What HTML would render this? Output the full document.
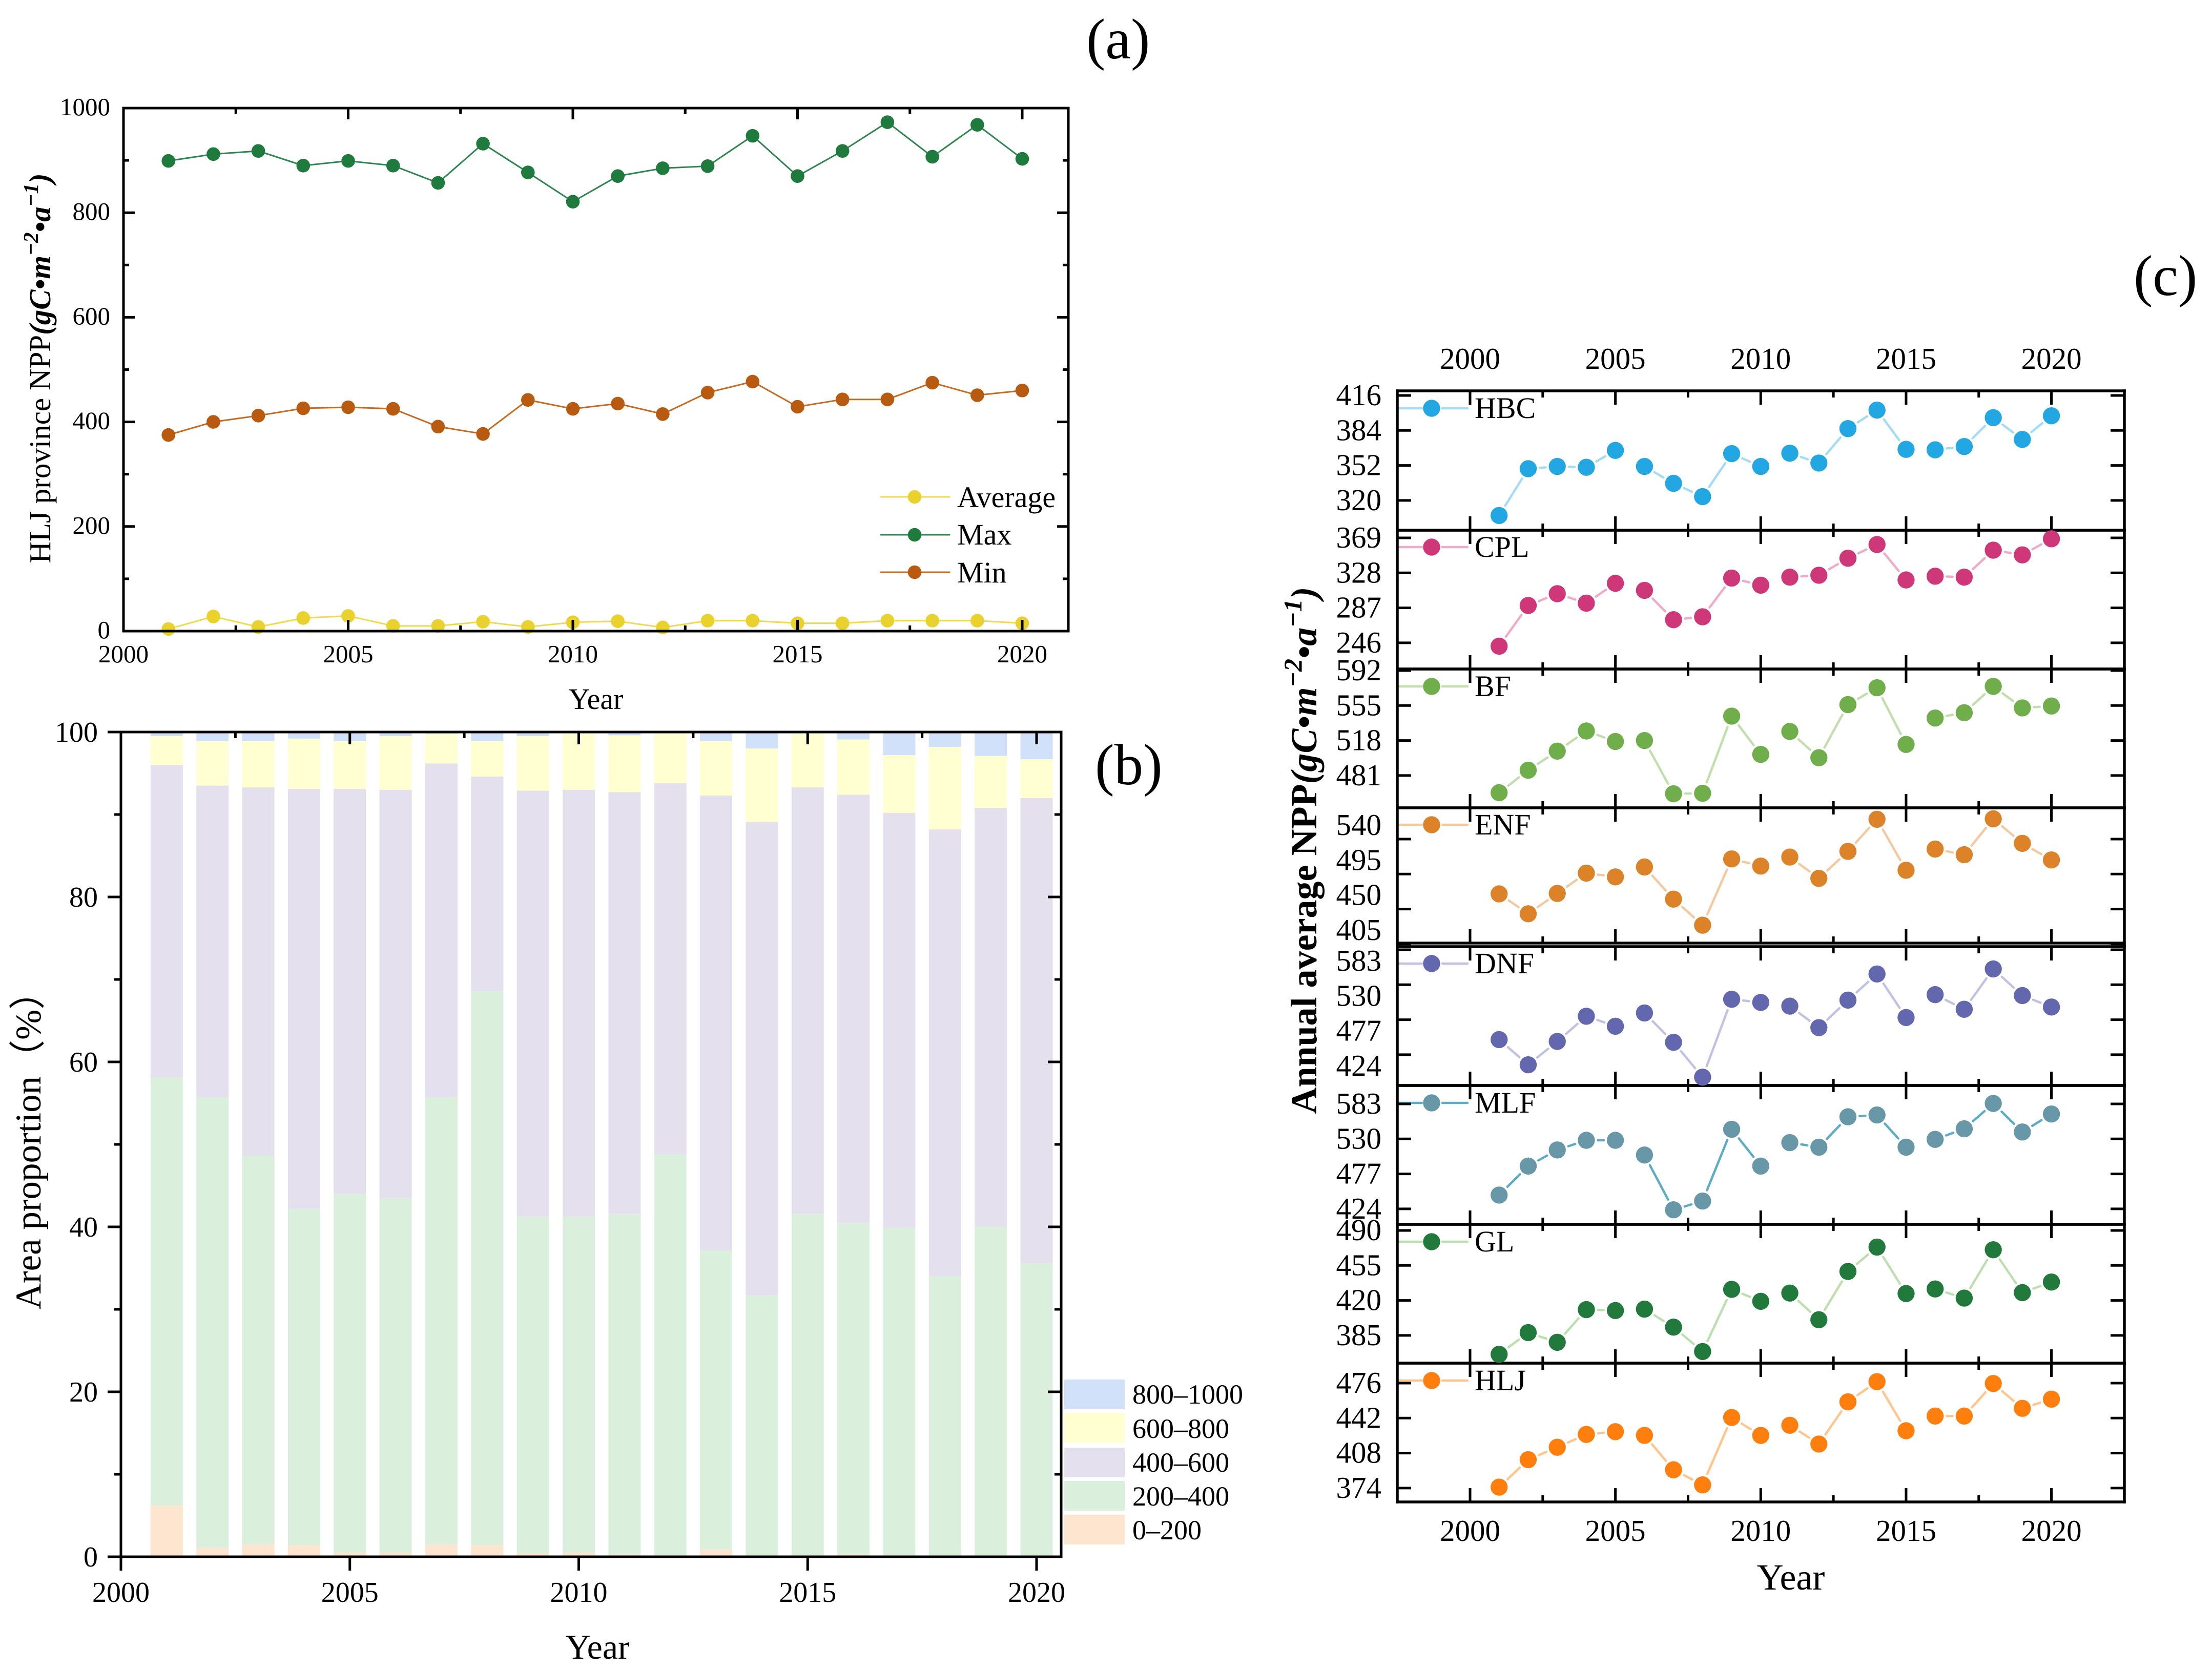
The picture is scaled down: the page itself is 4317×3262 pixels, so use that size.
<!DOCTYPE html>
<html lang="en">
<head>
<meta charset="utf-8">
<title>NPP charts</title>
<style>
html,body{margin:0;padding:0;background:#fff}
svg{display:block}
text{font-family:"Liberation Serif","Noto Sans CJK SC",serif;fill:#000}
</style>
</head>
<body>
<svg xmlns="http://www.w3.org/2000/svg" width="4317" height="3262" viewBox="0 0 4317 3262">
  <rect width="4317" height="3262" fill="#fff"/>

  <g id="panelA"></g>
  <g id="panelB"></g>
  <g id="panelC"></g>

  <text x="2120" y="114" font-size="112">(a)</text>
  <text x="2137" y="1531" font-size="113">(b)</text>
  <text x="4164" y="576" font-size="112">(c)</text>

  <text x="1163" y="1384" font-size="58" text-anchor="middle">Year</text>
  <text transform="translate(98,719) rotate(-90)" font-size="59" text-anchor="middle">HLJ province NPP<tspan font-weight="bold" font-style="italic">(gC•m<tspan dy="-24" font-size="41">−2</tspan><tspan dy="24">•a</tspan><tspan dy="-24" font-size="41">−1</tspan><tspan dy="24">)</tspan></tspan></text>

  <text x="1166" y="3238" font-size="68" text-anchor="middle">Year</text>
  <text transform="translate(79,2228) rotate(-90)" font-size="71" text-anchor="middle">Area proportion（%）</text>

  <text x="3495" y="3103" font-size="72" text-anchor="middle">Year</text>
  <text transform="translate(2569,1660) rotate(-90)" font-size="72" font-weight="bold" text-anchor="middle">Annual average NPP<tspan font-style="italic">(gC•m<tspan dy="-29" font-size="50">−2</tspan><tspan dy="29">•a</tspan><tspan dy="-29" font-size="50">−1</tspan><tspan dy="29">)</tspan></tspan></text>
</svg>

<script>
// ---------- shared categories ----------
const years = [2001,2002,2003,2004,2005,2006,2007,2008,2009,2010,2011,2012,2013,2014,2015,2016,2017,2018,2019,2020];
const xTickYears = [2000,2005,2010,2015,2020];
const xMinorYears = [2002.5,2007.5,2012.5,2017.5];

// ---------- panel (a) ----------
const averageValues = [4,28,8,25,29,10,10,18,8,17,19,7,20,20,15,15,20,20,20,15];
const maxValues = [899,912,918,890,899,890,857,932,877,821,870,885,889,947,870,918,973,907,968,903];
const minValues = [375,400,412,426,428,425,391,377,442,425,435,415,456,477,429,443,443,475,451,460];
const aYTicks = [0,200,400,600,800,1000];
const aYMinor = [100,300,500,700,900];

// ---------- panel (b) ----------
const bandLabels = ['0–200','200–400','400–600','600–800','800–1000'];
const band0to200 = [6.2,1.1,1.5,1.4,0.5,0.5,1.5,1.4,0.4,0.5,0.3,0.2,0.9,0.1,0.2,0.3,0.2,0.1,0.1,0.05];
const band200to400 = [51.9,54.6,47.1,40.8,43.5,43,54.2,67.2,40.8,40.7,41.3,48.6,36.2,31.6,41.4,40.2,39.7,33.9,39.9,35.55];
const band400to600 = [37.9,37.8,44.7,50.9,49.1,49.5,40.5,26,51.7,51.8,51.1,45,55.2,57.4,51.7,51.9,50.3,54.2,50.8,56.4];
const band600to800 = [3.5,5.4,5.6,6.1,5.8,6.5,3.6,4.3,6.6,6.9,6.9,6.1,6.6,8.9,6.6,6.7,7,10,6.3,4.7];
const band800to1000 = [0.5,1.1,1.1,0.8,1.1,0.5,0.2,1.1,0.5,0.1,0.4,0.1,1.1,2,0.1,0.9,2.8,1.8,2.9,3.3];
const bYTicks = [0,20,40,60,80,100];
const bYMinor = [10,30,50,70,90];

// ---------- panel (c) ----------
const hbcValues = [306.2,349,351.1,350.3,365.8,351.1,335.6,323.5,362.8,351.1,363.2,354.2,385.7,402.6,366.7,366.3,369.3,395.7,375.8,397.4];
const cplValues = [242.1,289.8,303.6,292.5,315.8,307.5,273.1,276.5,321.9,313.6,323,325.2,345.2,361.2,319.7,324.1,323,354.6,349.1,367.9];
const bfValues = [462.8,486.6,506.8,528.1,517,518,461.7,462.2,543.8,503.3,527.6,499.8,556,573.8,513.9,541.8,547.4,575.3,552.5,554.5];
const enfValues = [469.5,443.9,470.1,496.2,491.4,504.1,462.8,429.3,514.5,505.3,516.9,489.5,524.2,565.5,499.9,527.2,519.9,566.1,534.5,513.2];
const dnfValues = [446.9,408.7,444.1,482.3,467.1,487.2,442.8,390,508,503.2,497.6,465,506.7,546.3,480.3,515,492.8,553.9,513.6,496.2];
const mlfValues = [444.9,488.9,513.3,527.9,527.9,505.6,422.6,435.9,544.6,488.9,524.4,517.5,563.5,566.3,517.5,529.3,545.3,583.7,540.5,567.7];
const glValues = [366.1,387.8,378.1,410.8,409.9,411.3,393.3,368.9,431.1,419.1,427.4,400.7,449,473.4,426.9,431.5,422.3,470.7,427.8,438.4];
const hljValues = [374.9,401.6,413.7,426.1,428.8,425.2,391.8,377.1,442.6,425.2,435,416.8,457.8,477.4,429.7,444,444,475.6,451.5,460.4];
const hbcTicks = [416,384,352,320];
const cplTicks = [369,328,287,246];
const bfTicks = [592,555,518,481];
const enfTicks = [540,495,450,405];
const dnfTicks = [583,530,477,424];
const mlfTicks = [583,530,477,424];
const glTicks = [490,455,420,385];
const hljTicks = [476,442,408,374];
const brokenAfterYears = [2005,2010,2015];

// ---------- helpers ----------
const NS = 'http://www.w3.org/2000/svg';
function make(tag, attrs, parent){
  const n = document.createElementNS(NS, tag);
  for (const k in attrs) n.setAttribute(k, attrs[k]);
  parent.appendChild(n);
  return n;
}
function xTick(parent, x, y1, y2, w){
  const t = make('line',{x1:x,x2:x,y1:y1,y2:y2,stroke:'#000','stroke-width':w},parent);
  
  
}
function yTick(parent, y, x1, x2, w){
  const t = make('line',{x1:x1,x2:x2,y1:y,y2:y,stroke:'#000','stroke-width':w},parent);
  
  
}
function axisLine(parent, x1, y1, x2, y2, w){
  const t = make('line',{x1:x1,y1:y1,x2:x2,y2:y2,stroke:'#000','stroke-width':w,'stroke-linecap':'square'},parent);
  
  
}
function xLabel(parent, x, y, size, str){
  const t = make('text',{x:x,y:y,'font-size':size,'text-anchor':'middle'},parent);
  t.textContent = str;
  
  
}
function yLabel(parent, x, y, size, str){
  const t = make('text',{x:x,y:y,'font-size':size,'text-anchor':'end'},parent);
  t.textContent = str;
  
  
}
function point(parent, x, y, r, color){
  const c = make('circle',{cx:x,cy:y,r:r,fill:color},parent);
  
  
}
function legendText(parent, x, y, size, str){
  const t = make('text',{x:x,y:y,'font-size':size},parent);
  t.textContent = str;
  
  
}
function legendLine(parent, x1, x2, y, color, w){
  const l = make('line',{x1:x1,x2:x2,y1:y,y2:y,stroke:color,'stroke-width':w,'stroke-linecap':'round'},parent);
  
  
}

// ---------- panel (a) drawing ----------
(function(){
  const g = document.getElementById('panelA');
  const L = 241, R = 2085, T = 211, B = 1232;
  const xA = y => L + (y - 2000) * 87.7;
  const yA = v => B - v / 1000 * (B - T);
  const series = [
    {values: averageValues, label: 'Average', color: '#e9d22e', line: '#f0da4a', ly: 970, ty: 990},
    {values: maxValues, label: 'Max', color: '#1f7a3e', line: '#2f8550', ly: 1044, ty: 1063},
    {values: minValues, label: 'Min', color: '#b85a10', line: '#c56a20', ly: 1117, ty: 1137}
  ];
  series.forEach(s => {
    const path = make('polyline',{points: years.map((y,i)=>xA(y)+','+yA(s.values[i])).join(' '),fill:'none',stroke:s.line,'stroke-width':3},g);
    
    
    years.forEach((y,i)=>point(g, xA(y), yA(s.values[i]), 13.3, s.color));
    legendLine(g, 1719, 1853, s.ly, s.line, 3);
    point(g, 1785, s.ly, 13.3, s.color);
    legendText(g, 1868, s.ty, 58, s.label);
  });
  // frame
  axisLine(g, L, T, R, T, 5);
  axisLine(g, L, B, R, B, 5);
  axisLine(g, L, T, L, B, 5);
  axisLine(g, R, T, R, B, 5);
  aYTicks.forEach(v=>{
    yTick(g, yA(v), L, L+22, 5);
    yTick(g, yA(v), R, R-22, 5);
    yLabel(g, 215, yA(v)+14, 49, String(v));
  });
  aYMinor.forEach(v=>{
    yTick(g, yA(v), L, L+11, 5);
    yTick(g, yA(v), R, R-11, 5);
  });
  xTickYears.forEach(y=>{
    xTick(g, xA(y), T, T+22, 5);
    xTick(g, xA(y), B, B-22, 5);
    xLabel(g, xA(y), 1293, 49, String(y));
  });
  xMinorYears.forEach(y=>{
    xTick(g, xA(y), T, T+11, 5);
    xTick(g, xA(y), B, B-11, 5);
  });
})();

// ---------- panel (b) drawing ----------
(function(){
  const g = document.getElementById('panelB');
  const L = 236, R = 2071, T = 1429, B = 3039;
  const xB = y => L + (y - 2000) * 89.35;
  const yB = v => B - v / 100 * (B - T);
  const bands = [band0to200, band200to400, band400to600, band600to800, band800to1000];
  const colors = ['#fde5d0','#daf0dc','#e5e0ee','#ffffd1','#d2e1fa'];
  const barW = 63;
  years.forEach((y,i)=>{
    let acc = 0;
    bands.forEach((band,b)=>{
      const y1 = yB(acc + band[i]), y0 = yB(acc);
      const r = make('rect',{x:xB(y)-barW/2,y:y1,width:barW,height:y0-y1,fill:colors[b]},g);
      
      
      acc += band[i];
    });
  });
  axisLine(g, L, T, R, T, 5);
  axisLine(g, L, B, R, B, 5);
  axisLine(g, L, T, L, B, 5);
  axisLine(g, R, T, R, B, 5);
  bYTicks.forEach(v=>{
    yTick(g, yB(v), L, L-26, 5);
    yTick(g, yB(v), R, R-26, 5);
    yLabel(g, 191, yB(v)+19, 56, String(v));
  });
  bYMinor.forEach(v=>{
    yTick(g, yB(v), L, L-13, 5);
    yTick(g, yB(v), R, R-13, 5);
  });
  xTickYears.forEach(y=>{
    xTick(g, xB(y), B, B+27, 5);
    xTick(g, xB(y), T, T+24, 5);
    xLabel(g, xB(y), 3127, 56, String(y));
  });
  xMinorYears.forEach(y=>{
    xTick(g, xB(y), T, T+12, 5);
  });
  // legend (top-down: highest band first)
  const swatchTop = [2957,2891,2826,2758,2693];
  const textBase = [3005,2939,2873,2807,2740];
  bandLabels.forEach((label,i)=>{
    const s = make('rect',{x:2077,y:swatchTop[i],width:118,height:58,fill:colors[i]},g);
    
    
    legendText(g, 2210, textBase[i], 54, label);
  });
})();

// ---------- panel (c) drawing ----------
(function(){
  const g = document.getElementById('panelC');
  const L = 2727, R = 4146;
  const xC = y => 2869 + (y - 2000) * 56.73;
  const panels = [
    {name:'HBC',values:hbcValues,ticks:hbcTicks,top:763,bottom:1035,firstTick:772,labelDy:0,color:'#22a7e3',line:'#a5dcf5',legendY:797},
    {name:'CPL',values:cplValues,ticks:cplTicks,top:1035,bottom:1306,firstTick:1050,labelDy:0,color:'#cf3878',line:'#efacc9',legendY:1068},
    {name:'BF',values:bfValues,ticks:bfTicks,top:1306,bottom:1577,firstTick:1309,labelDy:0,color:'#70ad4b',line:'#c1deac',legendY:1340},
    {name:'ENF',values:enfValues,ticks:enfTicks,top:1577,bottom:1841,firstTick:1638,labelDy:-27,color:'#dc8228',line:'#f3c9a0',legendY:1610},
    {name:'DNF',values:dnfValues,ticks:dnfTicks,top:1848,bottom:2119,firstTick:1854,labelDy:22,color:'#6367ae',line:'#c1c2e1',legendY:1881},
    {name:'MLF',values:mlfValues,ticks:mlfTicks,top:2119,bottom:2390,firstTick:2155,labelDy:0,color:'#6897a8',line:'#5eabc6',legendY:2153},
    {name:'GL',values:glValues,ticks:glTicks,top:2390,bottom:2661,firstTick:2402,labelDy:0,color:'#217a3c',line:'#bddfb0',legendY:2424},
    {name:'HLJ',values:hljValues,ticks:hljTicks,top:2661,bottom:2932,firstTick:2700,labelDy:0,color:'#ff7f0e',line:'#ffc58f',legendY:2695}
  ];
  const STEP = 68.3, MR = 16.7, GAP = 6;
  const yC = (p,v) => p.firstTick + (p.ticks[0]-v) * STEP / (p.ticks[0]-p.ticks[1]);

  // first pass: legend lines, ticks and axis lines
  panels.forEach(p=>{
    legendLine(g, 2728, 2775, p.legendY, p.line, 4.5);
    legendLine(g, 2815, 2864, p.legendY, p.line, 4.5);
    p.ticks.forEach(v=>{
      const ty = yC(p,v);
      yTick(g, ty, L, L+27, 5);
      yTick(g, ty, R, R-27, 5);
      yLabel(g, 2696, ty+p.labelDy+19, 59, String(v));
    });
    xTickYears.forEach(y=>{
      xTick(g, xC(y), p.top, p.top+27, 5);
      xTick(g, xC(y), p.bottom, p.bottom-27, 5);
    });
    xMinorYears.forEach(y=>{
      xTick(g, xC(y), p.top, p.top+13, 5);
      xTick(g, xC(y), p.bottom, p.bottom-13, 5);
    });
    axisLine(g, L, p.top, R, p.top, 5.5);
    axisLine(g, L, p.bottom, R, p.bottom, 5.5);
  });
  axisLine(g, L, 763, L, 2932, 5.5);
  axisLine(g, R, 763, R, 2932, 5.5);
  xTickYears.forEach(y=>{
    xLabel(g, xC(y), 720, 59, String(y));
    xLabel(g, xC(y), 3008, 59, String(y));
  });

  // second pass: series and legend markers sit above the axes
  panels.forEach(p=>{
    years.forEach((y,i)=>{
      if (i === years.length-1 || brokenAfterYears.includes(y)) return;
      const x0 = xC(y), y0 = yC(p,p.values[i]), x1 = xC(years[i+1]), y1 = yC(p,p.values[i+1]);
      const dx = x1-x0, dy = y1-y0, len = Math.hypot(dx,dy), trim = MR+GAP;
      if (len <= 2*trim) return;
      const ux = dx/len, uy = dy/len;
      const seg = make('line',{x1:x0+ux*trim,y1:y0+uy*trim,x2:x1-ux*trim,y2:y1-uy*trim,stroke:p.line,'stroke-width':4.5,'stroke-linecap':'round'},g);
      
      
    });
    years.forEach((y,i)=>point(g, xC(y), yC(p,p.values[i]), MR, p.color));
    point(g, 2794, p.legendY, MR, p.color);
    legendText(g, 2878, p.legendY+19, 58, p.name);
  });
})();
</script>
</body>
</html>
